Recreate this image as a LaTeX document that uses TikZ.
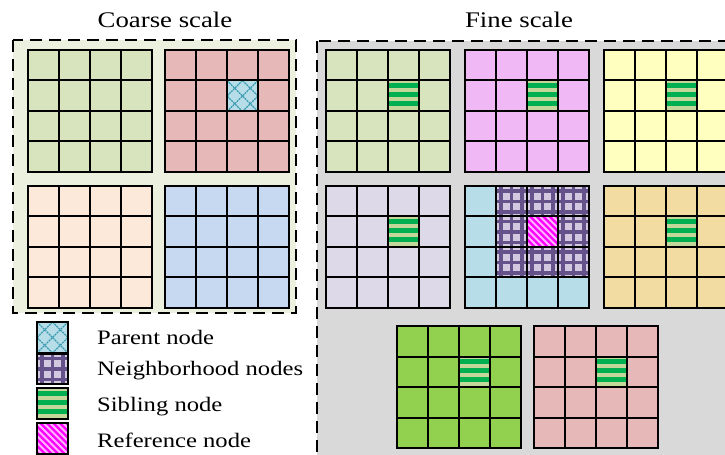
\documentclass[tikz,border=0pt]{standalone}
\usepackage{fontspec}
\setmainfont{Liberation Serif}
\usepackage{graphicx}
\definecolor{coarsebg}{HTML}{EBF1DE}
\definecolor{finebg}{HTML}{D9D9D9}
\definecolor{cgreen}{HTML}{D7E4BD}
\definecolor{cpink}{HTML}{E6B9B8}
\definecolor{cpeach}{HTML}{FDE9D9}
\definecolor{cblue}{HTML}{C6D9F1}
\definecolor{fviolet}{HTML}{F0B9F5}
\definecolor{fyellow}{HTML}{FFFFC0}
\definecolor{flav}{HTML}{DED9E8}
\definecolor{flblue}{HTML}{B7DEE8}
\definecolor{fwheat}{HTML}{F2DCA2}
\definecolor{fgreen}{HTML}{92D050}
\definecolor{parbg}{HTML}{B7DEE8}
\definecolor{parln}{HTML}{3A9AB0}
\definecolor{nbbg}{HTML}{D2C8E0}
\definecolor{nbln}{HTML}{65528A}
\definecolor{sibl}{HTML}{C4D79B}
\definecolor{sibd}{HTML}{00B050}
\definecolor{refbg}{HTML}{FF00FF}
\definecolor{refln}{HTML}{FFB8FF}
\tikzset{
  gl/.style={line width=2bp, black},
  dbox/.style={line width=2bp, black, dash pattern=on 12bp off 7bp},
  lbl/.style={font=\fontsize{20.6}{24}\selectfont, inner sep=0pt},
  ttl/.style={font=\fontsize{22.4}{26}\selectfont, inner sep=0pt},
}
\newcommand\mygrid[3]{\fill[#3] (#1,#2) rectangle ++(124,122);}
\newcommand\mygridlines[2]{%
  \foreach \k in {1,2,3}{%
    \draw[gl] ({#1+31*\k},#2) -- ++(0,122);
    \draw[gl] (#1,{#2+30.5*\k}) -- ++(124,0);
  }%
  \draw[gl] (#1,#2) rectangle ++(124,122);}
\newcommand\parcell[2]{%
  \begin{scope}
    \clip (#1,#2) rectangle ++(31,30.5);
    \fill[parbg] (#1,#2) rectangle ++(31,30.5);
    \foreach \t in {-1,0,1}{%
      \draw[parln, line width=1.3bp, dash pattern=on 2bp off 0.8bp] ({#1+\t*15.5},#2) -- ++(31,31);
      \draw[parln, line width=1.3bp, dash pattern=on 2bp off 0.8bp] ({#1+31+\t*15.5},#2) -- ++(-31,31);
    }
  \end{scope}}
\newcommand\nbcell[2]{%
  \begin{scope}
    \clip (#1,#2) rectangle ++(31,30.5);
    \fill[nbbg] (#1,#2) rectangle ++(31,30.5);
    \foreach \o in {5,15.5,26}{%
      \draw[nbln, line width=3.2bp] ({#1+\o},#2) -- ++(0,30.5);
      \draw[nbln, line width=3.2bp] (#1,{#2+\o}) -- ++(31,0);
    }
  \end{scope}}
\newcommand\sibcell[2]{%
  \fill[sibl] (#1,#2) rectangle ++(31,30.5);
  \foreach \o in {2.5,11.5,20.5}{%
    \fill[sibd] (#1,{#2+\o}) rectangle ++(31,5);
  }}
\newcommand\refcell[2]{%
  \begin{scope}
    \clip (#1,#2) rectangle ++(31,30.5);
    \fill[refbg] (#1,#2) rectangle ++(31,30.5);
    \foreach \t in {-5,...,5}{%
      \draw[refln, line width=2bp] ({#1+\t*6.5},#2) -- ++(31,31);
    }
  \end{scope}}
\begin{document}
\begin{tikzpicture}[x=1bp,y=-1bp]
\useasboundingbox (0,0) rectangle (725,455);
\clip (0,0) rectangle (725,455);
% titles
\node[ttl, anchor=base] (tcoarse) at (165,28) {\scalebox{1.2}[1]{Coarse scale}};
\node[ttl, anchor=base] (tfine) at (519,28) {\scalebox{1.2}[1]{Fine scale}};
% boxes
\draw[dbox, fill=coarsebg] (13,40) rectangle (296,313);
\draw[dbox, fill=finebg] (317,41) rectangle (745,475);
% coarse grids
\mygrid{28}{50}{cgreen}\mygridlines{28}{50}
\mygrid{165}{50}{cpink}\parcell{227}{80.5}\mygridlines{165}{50}
\mygrid{28}{186}{cpeach}\mygridlines{28}{186}
\mygrid{165}{186}{cblue}\mygridlines{165}{186}
% fine grids row 1
\mygrid{326}{50}{cgreen}\sibcell{388}{80.5}\mygridlines{326}{50}
\mygrid{465}{50}{fviolet}\sibcell{527}{80.5}\mygridlines{465}{50}
\mygrid{604}{50}{fyellow}\sibcell{666}{80.5}\mygridlines{604}{50}
% fine grids row 2
\mygrid{326}{186}{flav}\sibcell{388}{216.5}\mygridlines{326}{186}
\mygrid{465}{186}{flblue}
\foreach \r in {0,1,2}{\foreach \c in {1,2,3}{\nbcell{465+31*\c}{186+30.5*\r}}}
\refcell{527}{216.5}
\mygridlines{465}{186}
\mygrid{604}{186}{fwheat}\sibcell{666}{216.5}\mygridlines{604}{186}
% fine grids row 3
\mygrid{397}{326}{fgreen}\sibcell{459}{356.5}\mygridlines{397}{326}
\mygrid{534}{326}{cpink}\sibcell{596}{356.5}\mygridlines{534}{326}
% legend
\parcell{37}{322}\draw[gl] (37,322) rectangle ++(31,30.5);
\nbcell{37}{353.5}\draw[gl] (37,353.5) rectangle ++(31,30.5);
\sibcell{37}{388}\draw[gl] (37,388) rectangle ++(31,30.5);
\refcell{37}{423}\draw[gl] (37,423) rectangle ++(31,30.5);
\node[lbl, anchor=base west] (lpar) at (97,345) {\scalebox{1.2}[1]{Parent node}};
\node[lbl, anchor=base west] (lnb) at (97,375) {\scalebox{1.2}[1]{Neighborhood nodes}};
\node[lbl, anchor=base west] (lsib) at (97,411) {\scalebox{1.2}[1]{Sibling node}};
\node[lbl, anchor=base west] (lref) at (97,447) {\scalebox{1.2}[1]{Reference node}};
\end{tikzpicture}
\end{document}
